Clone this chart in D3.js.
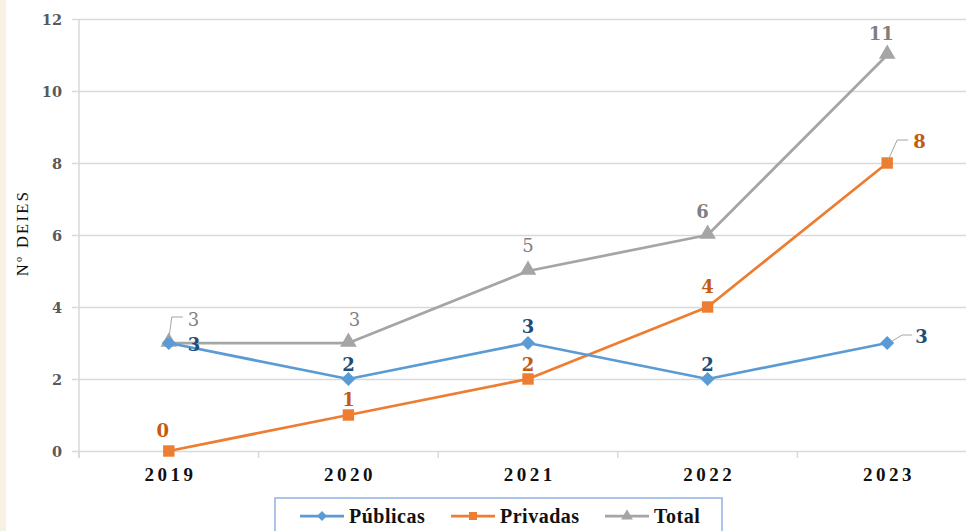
<!DOCTYPE html>
<html>
<head>
<meta charset="utf-8">
<script src="https://cdn.jsdelivr.net/npm/d3@7"></script>
<style>
  body { margin: 0; background: #fff; }
  svg { display: block; }
</style>
</head>
<body>
<svg id="chart" width="966" height="531"></svg>
<script>
// data
const years = ['2019', '2020', '2021', '2022', '2023']
const publicas = [3, 2, 3, 2, 3]
const privadas = [0, 1, 2, 4, 8]
const total = [3, 3, 5, 6, 11]
const yTicks = [0, 2, 4, 6, 8, 10, 12]
const seriesNames = ['Públicas', 'Privadas', 'Total']

const svg = d3.select('#chart')
const W = 966, H = 531
const plotLeft = 79, plotTop = 19, plotBottom = 451

// beige strip on the left edge
svg.append('rect').attr('x', 0).attr('y', 0).attr('width', 6).attr('height', H).attr('fill', '#f6f1e4')

const x = d3.scaleBand().domain(years).range([plotLeft, plotLeft + 179.6 * 5]).paddingInner(0).paddingOuter(0)
const y = d3.scaleLinear().domain([0, 12]).range([plotBottom, plotTop])
const cx = d => x(d) + x.bandwidth() / 2

// gridlines + y axis
const yAxis = d3.axisLeft(y).tickValues(yTicks).tickSize(-(W - plotLeft)).tickPadding(10)
const gy = svg.append('g').attr('transform', `translate(${plotLeft},0)`).call(yAxis)
gy.select('.domain').remove()
gy.selectAll('.tick line').attr('stroke', '#d9d9d9').attr('stroke-width', 1.5).attr('x1', -7)
gy.selectAll('.tick text')
  .attr('fill', '#595959').attr('font-family', 'DejaVu Serif').attr('font-weight', 'bold').attr('font-size', 14.5)
  .attr('x', -17).attr('dy', '0.35em')

svg.append('line').attr('x1', plotLeft).attr('x2', plotLeft).attr('y1', plotTop).attr('y2', plotBottom + 7)
  .attr('stroke', '#d9d9d9').attr('stroke-width', 1.5)

// x axis
const xAxis = d3.axisBottom(x).tickSize(0).tickPadding(17)
const gx = svg.append('g').attr('transform', `translate(0,${plotBottom})`).call(xAxis)
gx.select('.domain').remove()
gx.selectAll('.tick text')
  .attr('fill', '#111').attr('font-family', 'Liberation Serif').attr('font-weight', 'bold').attr('font-size', 19)
  .attr('letter-spacing', '3.5px').attr('dy', '0.71em').attr('dx', '1.7px')
gx.selectAll('.sep').data(years.concat(['end'])).enter().append('line')
  .attr('x1', (d, i) => plotLeft + i * x.bandwidth()).attr('x2', (d, i) => plotLeft + i * x.bandwidth())
  .attr('y1', 0).attr('y2', 7).attr('stroke', '#d9d9d9').attr('stroke-width', 1.5)

// series styles; label offsets [dx, dy, anchor] relative to the point, lead = leader line points
const series = [
  { name: seriesNames[0], values: publicas, color: '#5b9bd5', label: '#1f4e79', shape: d3.symbolDiamond2, size: 125,
    lab: [[19, 8, 'start'], [0, -8, 'middle'], [0, -10, 'middle'], [0, -8, 'middle'], [28, 0, 'start']],
    lead: [null, null, null, null, [[5, -2], [15, -8], [25, -8]]], bold: [1, 1, 1, 1, 1] },
  { name: seriesNames[1], values: privadas, color: '#ed7d31', label: '#c55a11', shape: d3.symbolSquare, size: 130,
    lab: [[-6, -14, 'middle'], [0, -9, 'middle'], [0, -8, 'middle'], [0, -14, 'middle'], [26, -15, 'start']],
    lead: [null, null, null, null, [[1, -3], [10, -23], [21, -23]]], bold: [1, 1, 1, 1, 1] },
  { name: seriesNames[2], values: total, color: '#a5a5a5', label: '#7f7f7f', shape: d3.symbolTriangle, size: 120,
    lab: [[19, -17, 'start'], [6, -17, 'middle'], [0, -19, 'middle'], [-5, -17, 'middle'], [-6, -15, 'middle']],
    lead: [[[0, -4], [3, -26], [14, -26]], null, null, null, null], bold: [0, 0, 0, 1, 1] }
]

const line = d3.line().x(d => cx(d.year)).y(d => y(d.v))

// draw order: total, privadas, publicas on top
const order = [2, 1, 0]
order.forEach(k => {
  const s = series[k]
  const pts = years.map((yr, i) => ({ year: yr, v: s.values[i] }))
  svg.append('path').datum(pts).attr('d', line)
    .attr('fill', 'none').attr('stroke', s.color).attr('stroke-width', 2.75).attr('stroke-linejoin', 'round')
  svg.selectAll(null).data(pts).enter().append('path')
    .attr('d', d3.symbol().type(s.shape).size(s.size))
    .attr('transform', d => `translate(${cx(d.year)},${y(d.v) + (s.shape === d3.symbolTriangle ? -1 : 0)})`)
    .attr('fill', s.color)
})

// data labels
series.forEach(s => {
  years.forEach((yr, i) => {
    const px = cx(yr), py = y(s.values[i])
    const [dx, dy, anchor] = s.lab[i]
    if (s.lead[i]) {
      svg.append('path')
        .attr('d', 'M' + s.lead[i].map(p => `${px + p[0]},${py + p[1]}`).join('L'))
        .attr('fill', 'none').attr('stroke', '#a5a5a5').attr('stroke-width', 1)
    }
    svg.append('text')
      .attr('x', px + dx).attr('y', py + dy).attr('text-anchor', anchor)
      .attr('fill', s.label).attr('font-family', 'DejaVu Serif')
      .attr('font-weight', s.bold[i] ? 'bold' : 'normal').attr('font-size', 18)
      .text(s.values[i])
  })
})

// y axis title
svg.append('text')
  .attr('transform', 'translate(28,233) rotate(-90)')
  .attr('text-anchor', 'middle').attr('fill', '#111')
  .attr('font-family', 'Liberation Serif').attr('font-size', 16.5)
  .attr('letter-spacing', '2.3px')
  .text('Nº DEIES')

// legend
const lg = svg.append('g')
lg.append('rect').attr('x', 275).attr('y', 498).attr('width', 447).attr('height', 40)
  .attr('fill', '#fff').attr('stroke', '#8db4e2').attr('stroke-width', 1.5)
const legendX = [300, 451, 605]
series.forEach((s, i) => {
  const g = lg.append('g').attr('transform', `translate(${legendX[i]},516)`)
  g.append('line').attr('x1', 0).attr('x2', 44).attr('stroke', s.color).attr('stroke-width', 2.75)
  g.append('path').attr('d', d3.symbol().type(s.shape).size(s.size * 0.5)).attr('transform', 'translate(22,0)').attr('fill', s.color)
  g.append('text').attr('x', 49).attr('y', 7).attr('fill', '#111')
    .attr('font-family', 'Liberation Serif').attr('font-weight', 'bold').attr('font-size', 20)
    .attr('letter-spacing', '0.5px')
    .text(s.name)
})
</script>
</body>
</html>
